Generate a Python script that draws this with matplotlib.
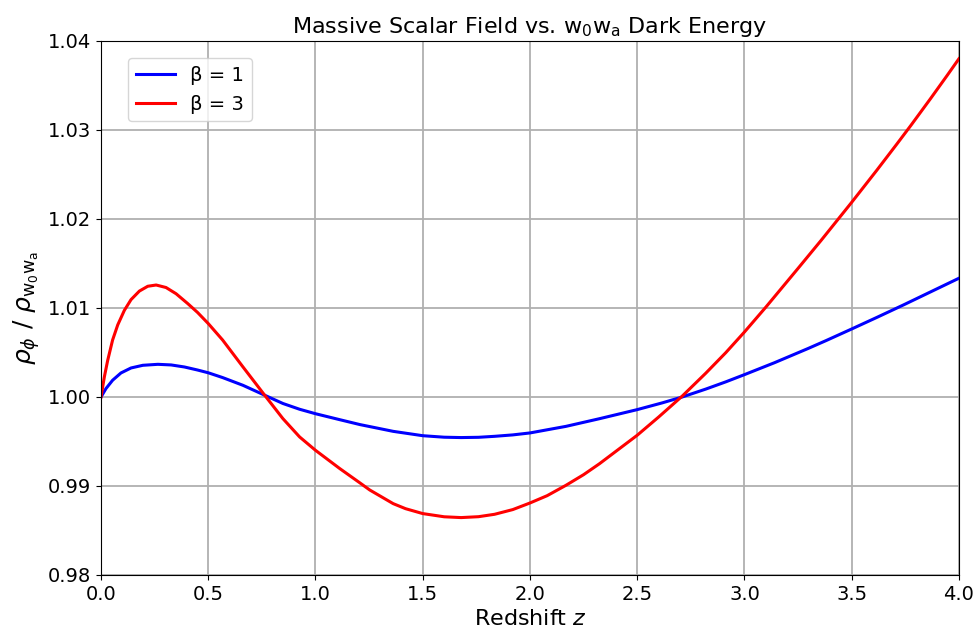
# Massive scalar field vs w0wa dark energy: density ratio against redshift
import numpy as np
import matplotlib.pyplot as plt

# values
z_b1 = [0.0, 0.023, 0.054, 0.093, 0.140, 0.195, 0.265, 0.327, 0.389, 0.45, 0.5,
        0.567, 0.662, 0.763, 0.848, 0.926, 1.0, 1.113, 1.207, 1.362, 1.5, 1.6,
        1.679, 1.76, 1.835, 1.92, 2.0, 2.168, 2.324, 2.5, 2.617, 2.71, 2.82, 2.913,
        3.0, 3.14, 3.296, 3.381, 3.5, 3.62, 3.743, 4.0]
ratio_b1 = [1.0, 1.00094, 1.00188, 1.0027, 1.00326, 1.00356, 1.00367, 1.0036, 1.00337,
            1.00303, 1.00272, 1.00218, 1.00131, 1.0002, 0.99927, 0.99862, 0.99812,
            0.99745, 0.9969, 0.99614, 0.99565, 0.99548, 0.99544, 0.99547, 0.99558,
            0.99574, 0.99596, 0.9967, 0.99756, 0.99858, 0.99934, 1.0, 1.00089,
            1.0017, 1.00251, 1.00385, 1.00544, 1.00634, 1.00764, 1.00897, 1.01036,
            1.01334]

z_b3 = [0.0, 0.0155, 0.031, 0.054, 0.078, 0.109, 0.140, 0.179, 0.218, 0.257, 0.303,
        0.35, 0.404, 0.45, 0.5, 0.567, 0.662, 0.763, 0.848, 0.926, 1.0, 1.113,
        1.207, 1.253, 1.362, 1.42, 1.5, 1.6, 1.679, 1.76, 1.835, 1.92, 2.0, 2.08,
        2.168, 2.25, 2.324, 2.5, 2.6, 2.71, 2.82, 2.913, 3.0, 3.1, 3.25, 3.358, 3.5,
        3.617, 3.711, 3.776, 3.867, 3.945, 4.0]
ratio_b3 = [1.0, 1.00225, 1.0041, 1.0064, 1.0081, 1.00974, 1.01094, 1.0119, 1.01244,
            1.01258, 1.0123, 1.0116, 1.0105, 1.0095, 1.00825, 1.0064, 1.00337,
            1.0002, 0.99757, 0.99551, 0.99401, 0.99196, 0.99035, 0.98955, 0.98802,
            0.98745, 0.9869, 0.98654, 0.98645, 0.98655, 0.98682, 0.98735, 0.98809,
            0.98891, 0.99008, 0.99127, 0.9925, 0.9957, 0.99775, 1.0001, 1.00268,
            1.00498, 1.0073, 1.0101, 1.01445, 1.01761, 1.02187, 1.02547, 1.02843,
            1.03051, 1.0335, 1.03612, 1.038]

fig = plt.figure(figsize=(9.76, 6.35), dpi=100)
ax = fig.add_axes([0.1035, 0.0945, 0.879, 0.841])

ax.plot(z_b1, ratio_b1, color='blue', lw=2.2, label='β = 1')
ax.plot(z_b3, ratio_b3, color='red', lw=2.2, label='β = 3')

ax.set_xlim(0, 4)
ax.set_ylim(0.98, 1.04)
ax.set_xticks(np.arange(0, 4.01, 0.5))
yt = np.arange(0.98, 1.0401, 0.01)
ax.set_yticks(yt)
ax.set_yticklabels([f"{v:.2f}" for v in yt])
ax.tick_params(labelsize=14)
ax.grid(True, color='#b0b0b0', lw=1.3)

ax.set_xlabel('Redshift $z$', fontsize=16)
ax.set_ylabel(r'$\rho_\phi$ / $\rho_{\mathrm{w_0w_a}}$', fontsize=18)
ax.set_title(r'Massive Scalar Field vs. w$_0$w$_\mathrm{a}$ Dark Energy', fontsize=16)
ax.legend(loc='upper left', fontsize=14, borderaxespad=0,
          bbox_to_anchor=(0.0315, 0.968))

fig.savefig('out.png', dpi=100)
